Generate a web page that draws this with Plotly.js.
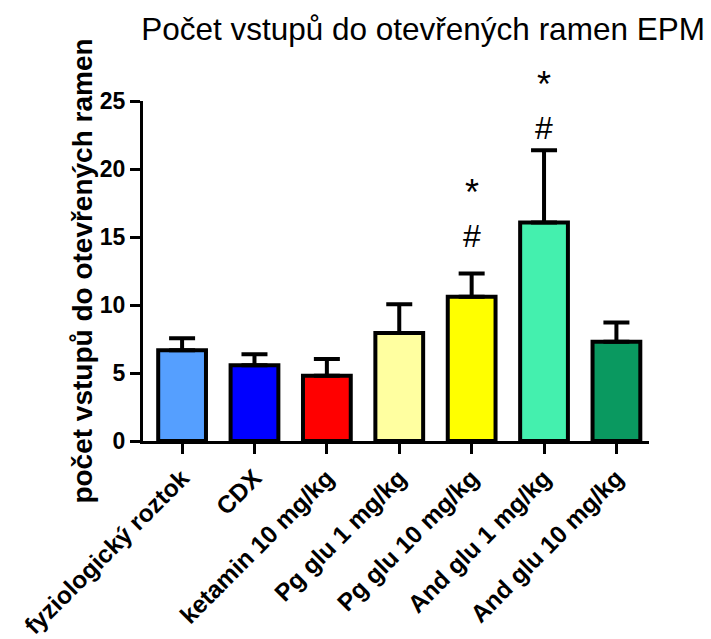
<!DOCTYPE html>
<html>
<head>
<meta charset="utf-8">
<script src="https://cdn.plot.ly/plotly-3.0.1.min.js"></script>
<style>html,body{margin:0;padding:0;background:#fff;}</style>
</head>
<body>
<div id="chart" style="width:711px;height:639px;"></div>
<script>
const categories = ["fyziologický roztok", "CDX", "ketamin 10 mg/kg", "Pg glu 1 mg/kg", "Pg glu 10 mg/kg", "And glu 1 mg/kg", "And glu 10 mg/kg"];
const means = [6.67, 5.57, 4.8, 7.94, 10.6, 16.06, 7.3];
const sem = [0.88, 0.8, 1.23, 2.11, 1.71, 5.31, 1.42];
const barColors = ["#559FFF", "#0000FF", "#FF0000", "#FFFFA0", "#FFFF00", "#44F0AE", "#0A9960"];
const yMax = 25;
const marks = [
  {cat: "Pg glu 10 mg/kg", hash: 15.1, star: 18.3},
  {cat: "And glu 1 mg/kg", hash: 23.0, star: 26.2}
];

const trace = {
  type: "bar",
  x: categories,
  y: means,
  width: 0.66,
  marker: {color: barColors, line: {color: "#000", width: 4}},
  error_y: {type: "data", symmetric: false, array: sem, arrayminus: sem.map(() => 0), color: "#000", thickness: 4, width: 13},
  hoverinfo: "none"
};

const annotations = [];
marks.forEach(m => {
  annotations.push({x: m.cat, y: m.hash / yMax, xref: "x", yref: "paper", yanchor: "middle", text: "#", showarrow: false, font: {family: "Liberation Sans, Arial", size: 32, color: "#000"}});
  annotations.push({x: m.cat, y: m.star / yMax, xref: "x", yref: "paper", yanchor: "middle", text: "*", showarrow: false, font: {family: "Liberation Sans, Arial", size: 36, color: "#000"}});
});

const layout = {
  width: 711, height: 639,
  margin: {l: 143, r: 62, t: 101, b: 198},
  paper_bgcolor: "#fff", plot_bgcolor: "#fff",
  showlegend: false,
  title: {text: "Počet vstupů do otevřených ramen EPM", x: 0.595, xanchor: "center", y: 0.955, yanchor: "middle",
          font: {family: "Liberation Sans, Arial", size: 31.5, color: "#000"}},
  xaxis: {
    range: [-0.54, 6.45],
    showline: true, linecolor: "#000", linewidth: 3,
    ticks: "outside", ticklen: 10, tickwidth: 3, tickcolor: "#000",
    tickangle: -45,
    tickfont: {family: "Liberation Sans, Arial", size: 24.5, color: "#000", weight: "bold"},
    showgrid: false, zeroline: false
  },
  yaxis: {
    range: [0, yMax],
    tickvals: [0, 5, 10, 15, 20, 25],
    showline: true, linecolor: "#000", linewidth: 3,
    ticks: "outside", ticklen: 10, tickwidth: 3, tickcolor: "#000",
    tickfont: {family: "Liberation Sans, Arial", size: 23, color: "#000", weight: "bold"},
    showgrid: false, zeroline: false,
    title: {text: "počet vstupů do otevřených ramen", standoff: 0,
            font: {family: "Liberation Sans, Arial", size: 28, color: "#000", weight: "bold"}}
  },
  annotations: annotations
};

Plotly.newPlot("chart", [trace], layout, {staticPlot: true});
</script>
</body>
</html>
